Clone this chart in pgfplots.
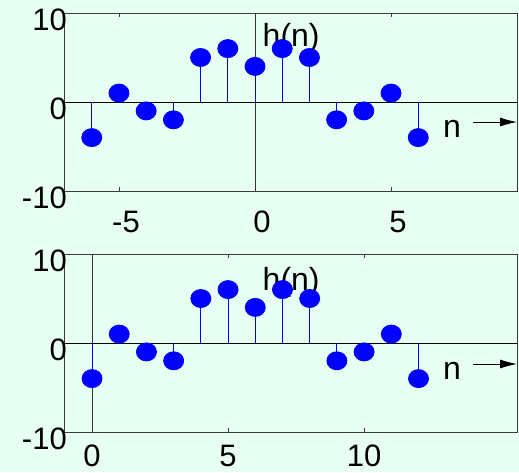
\documentclass[border=0pt]{standalone}
\usepackage{fontspec}
\setmainfont{Liberation Sans}
\usepackage{pgfplots}
\usepackage{pgfplotstable}
\pgfplotsset{compat=1.18}
\usetikzlibrary{arrows.meta}

\definecolor{bgmint}{RGB}{232,255,243}
\definecolor{framegray}{RGB}{60,60,60}

% impulse response h(n): n centred (-6..6) and shifted (k = 0..12)
\pgfplotstableread{
n   k   h
-6  0  -4
-5  1   1
-4  2  -1
-3  3  -2
-2  4   5
-1  5   6
0   6   4
1   7   6
2   8   5
3   9  -2
4   10 -1
5   11  1
6   12 -4
}\hdata

\pgfplotsset{
  stemaxis/.style={
    scale only axis, width=453pt, height=178pt, anchor=south west,
    ymin=-10, ymax=10, ytick={-10,0,10}, yticklabels={-10,0,10},
    axis line style={framegray, line width=0.9pt},
    tick style={framegray, line width=0.8pt}, major tick length=4pt,
    xtick pos=both, ytick pos=left, tick align=inside,
    ticklabel style={font=\fontsize{31}{31}\selectfont, inner sep=0pt},
    yticklabel style={anchor=east, xshift=3pt, yshift=-7pt},
    clip=false,
  },
  stems/.style={blue, line width=0.9pt, ycomb, mark=*, mark size=9pt,
    mark options={xscale=1.11, fill=blue, draw=none, solid}},
}

\begin{document}
\begin{tikzpicture}[x=1pt,y=1pt]
\useasboundingbox (0,0) rectangle (519,472);
\fill[bgmint] (0,0) rectangle (519,472);

% centred sequence
\begin{axis}[stemaxis, at={(64pt,281pt)},
    xmin=-7.02, xmax=9.63, xtick={-5,0,5}, xticklabels={-5,0,5},
    xticklabel style={anchor=center, xshift=7pt, yshift=-31pt}]
  \addplot[black, line width=0.8pt] coordinates {(-7.02,0) (9.63,0)};
  \addplot[black!80, line width=1pt] coordinates {(0,-10) (0,10)};
  \addplot[stems] table[x=n, y=h] {\hdata};
  \node[font=\fontsize{32}{32}\selectfont] at (axis cs:1.33,7.13) {h(n)};
  \node[font=\fontsize{32}{32}\selectfont] at (axis cs:7.24,-3.03) {n};
  \draw[-{Latex[length=17pt,width=9pt]}, line width=0.9pt]
    (axis cs:8.02,-2.25) -- (axis cs:9.63,-2.25);
\end{axis}

% shifted (causal) sequence
\begin{axis}[stemaxis, at={(64pt,40pt)},
    xmin=-1.03, xmax=15.62, xtick={0,5,10}, xticklabels={0,5,10},
    xticklabel style={anchor=center, yshift=-24pt}]
  \addplot[black, line width=0.8pt] coordinates {(-1.03,0) (15.62,0)};
  \addplot[black!80, line width=1pt] coordinates {(0,-10) (0,10)};
  \addplot[stems] table[x=k, y=h] {\hdata};
  \node[font=\fontsize{32}{32}\selectfont] at (axis cs:7.32,6.8) {h(n)};
  \node[font=\fontsize{32}{32}\selectfont] at (axis cs:13.23,-3.15) {n};
  \draw[-{Latex[length=17pt,width=9pt]}, line width=0.9pt]
    (axis cs:14.01,-2.36) -- (axis cs:15.62,-2.36);
\end{axis}
\end{tikzpicture}
\end{document}
